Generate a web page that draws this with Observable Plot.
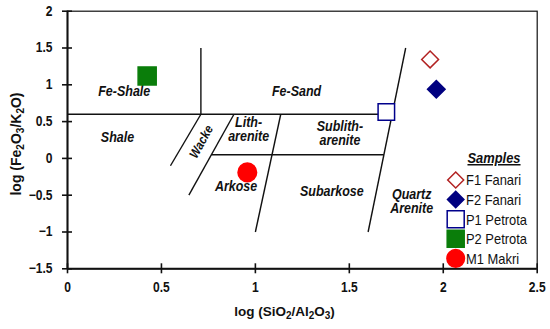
<!DOCTYPE html>
<html><head><meta charset="utf-8">
<script src="https://cdn.jsdelivr.net/npm/d3@7"></script>
<script src="https://cdn.jsdelivr.net/npm/@observablehq/plot@0.6"></script>
<style>
body{margin:0;background:#fff;}
#wrap{position:relative;width:550px;height:329px;font-family:"Liberation Sans",Arial,sans-serif;}
#wrap svg{display:block;}
#legend{position:absolute;left:0;top:0;pointer-events:none;}
</style></head><body><div id="wrap"></div>
<script>
// ---- data ----
const sampleNames = ["F1 Fanari", "F2 Fanari", "P1 Petrota", "P2 Petrota", "M1 Makri"];
const sampleX = [1.93, 1.963, 1.697, 0.424, 0.957];
const sampleY = [1.345, 0.94, 0.63, 1.12, -0.19];

// field boundaries (Herron 1988 diagram)
const boundX1 = [0, 0.71, 0.71, 0.886, 1.135, 0.765, 1.80];
const boundY1 = [0.6, 0.6, 0.6, 0.6, 0.6, 0.05, 1.5];
const boundX2 = [1.728, 0.71, 0.548, 0.646, 1.0, 1.684, 1.60];
const boundY2 = [0.6, 1.5, -0.1, -0.5, -1.0, 0.05, -1.0];

const fieldNames = ["Fe-Shale", "Fe-Sand", "Shale", "Wacke", "Lith-\narenite", "Sublith-\narenite", "Arkose", "Subarkose", "Quartz\nArenite"];
const fieldX = [0.302, 1.219, 0.266, 0.712, 0.964, 1.45, 0.897, 1.407, 1.832];
const fieldY = [0.914, 0.914, 0.289, 0.226, 0.389, 0.34, -0.386, -0.444, -0.584];

const xTicks = [0, 0.5, 1, 1.5, 2, 2.5];
const yTicks = [-1.5, -1, -0.5, 0, 0.5, 1, 1.5, 2];

// ---- styles ----
const sampleStyle = {
  "F1 Fanari":  {symbol: "diamond2", fill: "white", stroke: "#b22222", r: 7.6, lsize: 7.2},
  "F2 Fanari":  {symbol: "diamond2", fill: "#000080", stroke: "#000080", r: 7.9, lsize: 7.4},
  "P1 Petrota": {symbol: "square", fill: "white", stroke: "#00008b", r: 9.3, lsize: 9.6},
  "P2 Petrota": {symbol: "square", fill: "#0a7d0a", stroke: "#0a7d0a", r: 10.2, lsize: 9.6},
  "M1 Makri":   {symbol: "circle", fill: "#ff0000", stroke: "#ff0000", r: 9.3, lsize: 8.8}
};
const font = "'Liberation Sans', Arial, sans-serif";
const fmt = d3.format("~g");
const SQ = 0.86; // horizontal condensing of the original typeface

const segs = boundX1.map((_, i) => ({x1: boundX1[i], y1: boundY1[i], x2: boundX2[i], y2: boundY2[i]}));
const fields = fieldNames.map((t, i) => ({t, x: fieldX[i], y: fieldY[i]}));
const samples = sampleNames.map((n, i) => ({n, x: sampleX[i], y: sampleY[i]}));

const dotMarks = samples.map(s => {
  const st = sampleStyle[s.n];
  return Plot.dot([s], {x: "x", y: "y", symbol: st.symbol, fill: st.fill, stroke: st.stroke, strokeWidth: 1.5, r: st.r});
});

const axisText = {fontSize: 14, fontWeight: "bold", fill: "#111"};

const chart = Plot.plot({
  width: 550, height: 329,
  marginLeft: 67, marginRight: 13.3, marginTop: 10.7, marginBottom: 60.7,
  x: {domain: [0, 2.5]},
  y: {domain: [-1.5, 2]},
  style: {fontFamily: font, fontSize: "14px", color: "#111", background: "white"},
  marks: [
    Plot.frame({stroke: "#111", strokeWidth: 1.2}),
    Plot.link(segs, {x1: "x1", y1: "y1", x2: "x2", y2: "y2", stroke: "#111", strokeWidth: 1.4}),
    Plot.text(fields.filter(f => f.t !== "Wacke"), {x: "x", y: "y", text: "t", fontStyle: "italic", fontWeight: "bold", fontSize: 14.5, lineHeight: 0.97, fill: "#111"}),
    Plot.text(fields.filter(f => f.t === "Wacke"), {x: "x", y: "y", text: "t", fontStyle: "italic", fontWeight: "bold", fontSize: 13, rotate: -61, fill: "#111"}),
    ...dotMarks,
    Plot.ruleY([-1.5], {stroke: "#111", strokeWidth: 2}),
    Plot.ruleX([0], {stroke: "#111", strokeWidth: 2}),
    Plot.axisX({ticks: xTicks, tickSize: 5, tickPadding: 8, label: null, tickFormat: fmt, strokeWidth: 1.6, stroke: "#111", ...axisText}),
    Plot.axisX({ticks: xTicks, tickSize: 5, dy: -5, tickFormat: () => "", label: null, strokeWidth: 1.6, stroke: "#111"}),
    Plot.axisY({ticks: yTicks, tickSize: 5, tickPadding: 10, label: null, tickFormat: fmt, strokeWidth: 1.6, stroke: "#111", ...axisText}),
    Plot.axisY({ticks: yTicks, tickSize: 5, dx: 5, tickFormat: () => "", label: null, strokeWidth: 1.6, stroke: "#111"})
  ]
});
document.getElementById("wrap").appendChild(chart);

// axis titles with subscripts
const svg = d3.select(chart);
function subText(g, parts, subSize) {
  parts.forEach(([s, sub]) => {
    const t = g.append("tspan").text(s);
    if (sub) t.attr("baseline-shift", "-25%").attr("font-size", subSize);
  });
}
const xl = svg.append("text").attr("x", 284.5).attr("y", 316).attr("text-anchor", "middle")
  .attr("data-nosq", "1")
  .attr("font-family", font).attr("font-size", 13.5).attr("font-weight", "bold").attr("fill", "#111");
subText(xl, [["log (SiO"], ["2", 1], ["/Al"], ["2", 1], ["O"], ["3", 1], [")"]], "10px");
const yl = svg.append("text").attr("transform", "translate(21,144) rotate(-90)").attr("text-anchor", "middle")
  .attr("data-nosq", "1")
  .attr("font-family", font).attr("font-size", 14).attr("font-weight", "bold").attr("fill", "#111");
subText(yl, [["log (Fe"], ["2", 1], ["O"], ["3", 1], ["/K"], ["2", 1], ["O)"]], "10px");

// legend overlay
const lg = d3.select("#wrap").append("svg").attr("id", "legend").attr("width", 550).attr("height", 329);
lg.append("text").attr("x", 494).attr("y", 163).attr("text-anchor", "middle")
  .attr("font-family", font).attr("font-size", 15).attr("font-weight", "bold").attr("font-style", "italic")
  .attr("text-decoration", "underline").attr("fill", "#111").text("Samples");
const symMap = {diamond2: d3.symbolDiamond2, square: d3.symbolSquare, circle: d3.symbolCircle};
sampleNames.forEach((n, i) => {
  const st = sampleStyle[n];
  const cy = 180 + i * 19.6;
  lg.append("path").attr("transform", `translate(455.7,${cy})`)
    .attr("d", d3.symbol(symMap[st.symbol], Math.PI * st.lsize * st.lsize)())
    .attr("fill", st.fill).attr("stroke", st.stroke).attr("stroke-width", 1.5);
  lg.append("text").attr("x", 466).attr("y", cy).attr("dy", "0.36em")
    .attr("font-family", font).attr("font-size", 15).attr("fill", "#111").text(n);
});

// condense texts horizontally (the original uses a narrow rendering)
function squish(root) {
  root.querySelectorAll("text").forEach(t => {
    if (t.getAttribute("data-nosq")) return;
    const lines = Array.from(t.querySelectorAll("tspan")).filter(s => s.hasAttribute("x"));
    const targets = lines.length ? lines : [t];
    targets.forEach(el => {
      const len = el.getComputedTextLength();
      if (len > 0) {
        el.setAttribute("textLength", (len * SQ).toFixed(2));
        el.setAttribute("lengthAdjust", "spacingAndGlyphs");
      }
    });
  });
}
squish(chart);
squish(document.getElementById("legend"));
</script></body></html>
